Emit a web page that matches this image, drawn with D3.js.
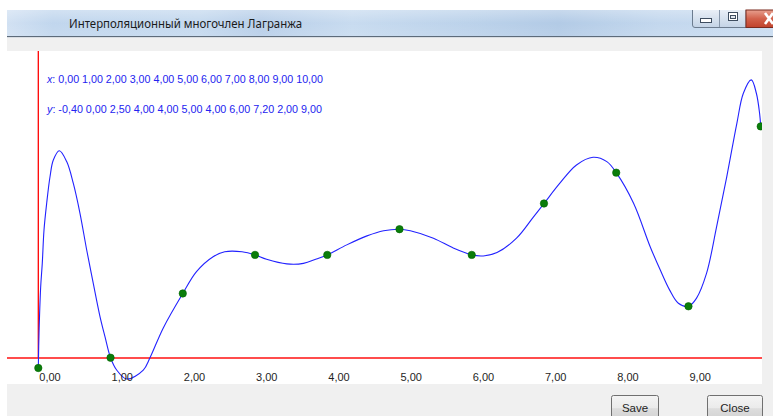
<!DOCTYPE html>
<html><head><meta charset="utf-8">
<script src="https://cdn.jsdelivr.net/npm/d3@7"></script>
<style>html,body{margin:0;padding:0;background:#fff;overflow:hidden}svg{display:block}</style>
</head><body>
<svg id="c" width="773" height="416"></svg>
<script>
const windowTitle = "Интерполяционный многочлен Лагранжа";
const nodeX = [0,1,2,3,4,5,6,7,8,9,10];
const nodeY = [-0.4,0,2.5,4,4,5,4,6,7.2,2,9];
const tickValues = [0,1,2,3,4,5,6,7,8,9];
// curve
const curveX = [0,0.01,0.033,0.055,0.079,0.116,0.162,0.208,0.291,0.393,0.484,0.577,0.670,0.761,0.854,0.923,1,1.085,1.224,1.453,1.546,1.730,2,2.19,2.42,2.58,2.82,3,3.16,3.44,3.67,3.85,4,4.27,4.55,4.78,5,5.15,5.47,5.75,6,6.16,6.35,6.62,6.85,7,7.22,7.45,7.68,7.87,8,8.24,8.47,8.61,8.74,8.86,9,9.11,9.25,9.39,9.53,9.67,9.76,9.87,9.94,9.985,10];
const curveY = [-0.4,0.95,2.76,3.67,4.97,6.01,7.04,7.69,8.05,7.63,6.79,5.62,4.19,2.89,1.60,0.82,0,-0.48,-0.83,-0.48,0,1.16,2.5,3.35,3.93,4.12,4.12,4,3.83,3.65,3.67,3.84,4,4.39,4.74,4.94,5,4.94,4.65,4.26,4,3.96,4.09,4.65,5.46,6,6.79,7.50,7.80,7.63,7.2,6.01,4.32,3.41,2.63,2.12,2,2.31,3.28,5.10,7.04,9.12,10.29,10.81,10.29,9.5,9];
const buttonLabels = ["Save","Close"];

const svg = d3.select("#c");
const W = 773, H = 416;
const win = {left:7, top:10};
const titleH = 26;
const plot = {left:7, top:51, right:762, bottom:384};

const locale = d3.formatLocale({decimal:",", thousands:" ", grouping:[3], currency:["",""], minus:"-"});
const fmt = locale.format(".2f");

const x = d3.scaleLinear().domain([0,10]).range([38.3,760.7]);
const y = d3.scaleLinear().domain([0,9]).range([357.7,126.4]);

const defs = svg.append("defs");
const tg = defs.append("linearGradient").attr("id","tb").attr("x1","0").attr("x2","1").attr("y1","0").attr("y2","0");
[["0","#d0e0f2"],["0.06","#bfd5ed"],["0.25","#c3d8ee"],["0.33","#b6cde8"],["0.45","#c6daef"],["0.6","#bad1ea"],["0.72","#b0c9e5"],["0.85","#c1d6ed"],["1","#c8dbf0"]]
  .forEach(s=>tg.append("stop").attr("offset",s[0]).attr("stop-color",s[1]));
const tv = defs.append("linearGradient").attr("id","tbv").attr("x1","0").attr("x2","0").attr("y1","0").attr("y2","1");
tv.append("stop").attr("offset","0").attr("stop-color","#fff").attr("stop-opacity",0.3);
tv.append("stop").attr("offset","0.5").attr("stop-color","#fff").attr("stop-opacity",0.03);
tv.append("stop").attr("offset","1").attr("stop-color","#fff").attr("stop-opacity",0.12);
const bg = defs.append("linearGradient").attr("id","btn").attr("x1","0").attr("x2","0").attr("y1","0").attr("y2","1");
bg.append("stop").attr("offset","0").attr("stop-color","#f4f4f4");
bg.append("stop").attr("offset","0.5").attr("stop-color","#ebebeb");
bg.append("stop").attr("offset","0.55").attr("stop-color","#dddddd");
bg.append("stop").attr("offset","1").attr("stop-color","#d2d2d2");
const wb = defs.append("linearGradient").attr("id","wb").attr("x1","0").attr("x2","0").attr("y1","0").attr("y2","1");
wb.append("stop").attr("offset","0").attr("stop-color","#e9eff7");
wb.append("stop").attr("offset","0.5").attr("stop-color","#d6e1ee");
wb.append("stop").attr("offset","1").attr("stop-color","#c3d3e6");
const cb = defs.append("linearGradient").attr("id","cb").attr("x1","0").attr("x2","0").attr("y1","0").attr("y2","1");
cb.append("stop").attr("offset","0").attr("stop-color","#e8a08f");
cb.append("stop").attr("offset","0.5").attr("stop-color","#d2614b");
cb.append("stop").attr("offset","1").attr("stop-color","#c0422c");
defs.append("clipPath").attr("id","clip").append("rect")
  .attr("x",plot.left).attr("y",plot.top).attr("width",plot.right-plot.left).attr("height",plot.bottom-plot.top);

// window frame
svg.append("rect").attr("x",win.left).attr("y",win.top).attr("width",W-win.left).attr("height",H-win.top).attr("fill","#f0f0f0");
svg.append("rect").attr("x",win.left).attr("y",win.top).attr("width",W-win.left).attr("height",titleH).attr("fill","url(#tb)");
svg.append("rect").attr("x",win.left).attr("y",win.top).attr("width",W-win.left).attr("height",titleH).attr("fill","url(#tbv)");
svg.append("line").attr("x1",win.left).attr("x2",W).attr("y1",win.top+titleH+0.5).attr("y2",win.top+titleH+0.5).attr("stroke","#5d6b7a");
svg.append("line").attr("x1",win.left).attr("x2",W).attr("y1",win.top+titleH+1.5).attr("y2",win.top+titleH+1.5).attr("stroke","#d9dde2");
svg.append("text").attr("x",69).attr("y",28).attr("font-family","Noto Sans, DejaVu Sans, sans-serif").attr("font-size",12.5)
  .attr("fill","#1b1b1b").attr("textLength",233).attr("lengthAdjust","spacingAndGlyphs").text(windowTitle);

// window buttons
const wbtn = svg.append("g");
wbtn.append("path").attr("d","M692.5,10 V25 Q692.5,27.5 695,27.5 H746 V10").attr("fill","url(#wb)").attr("stroke","#6c7c8f");
wbtn.append("line").attr("x1",719.5).attr("x2",719.5).attr("y1",10).attr("y2",27).attr("stroke","#8797ab");
wbtn.append("rect").attr("x",700.5).attr("y",18.5).attr("width",11).attr("height",4).attr("fill","#fff").attr("stroke","#3e4d60");
wbtn.append("rect").attr("x",728.5).attr("y",12.5).attr("width",9).attr("height",8).attr("fill","#fff").attr("stroke","#3e4d60");
wbtn.append("rect").attr("x",730.5).attr("y",15.5).attr("width",5).attr("height",3).attr("fill","#dfe6ef").attr("stroke","#3e4d60");
wbtn.append("rect").attr("x",746).attr("y",10).attr("width",30).attr("height",17.5).attr("fill","url(#cb)").attr("stroke","#7a2a1e");
wbtn.append("path").attr("d","M765,13 L773,24 M765,24 L773,13").attr("stroke","#fff").attr("stroke-width",2.6);

// plot area
svg.append("rect").attr("x",plot.left).attr("y",plot.top).attr("width",plot.right-plot.left).attr("height",plot.bottom-plot.top).attr("fill","#fff");

const font = "Liberation Sans, Arial, sans-serif";
const info = svg.append("g").attr("font-family",font).attr("font-size",11).attr("fill","#2323f0");
const lx = info.append("text").attr("x",47).attr("y",82.5).attr("textLength",276).attr("lengthAdjust","spacingAndGlyphs");
lx.append("tspan").attr("font-style","italic").text("x");
lx.append("tspan").text(": " + nodeX.map(fmt).join(" "));
const ly = info.append("text").attr("x",47).attr("y",112.5).attr("textLength",275).attr("lengthAdjust","spacingAndGlyphs");
ly.append("tspan").attr("font-style","italic").text("y");
ly.append("tspan").text(": " + nodeY.map(fmt).join(" "));

const g = svg.append("g").attr("clip-path","url(#clip)");
// red axes
g.append("line").attr("x1",x(0)).attr("x2",x(0)).attr("y1",plot.top).attr("y2",y(0)).attr("stroke","#ff0000").attr("stroke-width",1.3);
g.append("line").attr("x1",plot.left).attr("x2",plot.right).attr("y1",y(0)+0.3).attr("y2",y(0)+0.3).attr("stroke","#ff1010").attr("stroke-width",1.6);

// tick labels
const axis = d3.axisBottom(x).tickValues(tickValues).tickSize(0).tickPadding(0).tickFormat(fmt);
const ag = svg.append("g").attr("transform",`translate(0,${y(0)})`).call(axis);
ag.select(".domain").remove();
ag.selectAll("text").attr("text-anchor","start").attr("dy",null).attr("y",23.5).attr("dx",0.5)
  .attr("font-family",font).attr("font-size",11).attr("fill","#1e1e1e");

// curve
const pts = curveX.map((d,i)=>[d,curveY[i]]);
const line = d3.line().x(d=>x(d[0])).y(d=>y(d[1])).curve(d3.curveCatmullRom.alpha(0.5));
g.append("path").datum(pts).attr("d",line).attr("fill","none").attr("stroke","#2222ff").attr("stroke-width",1.1);

// nodes
g.selectAll("circle.n").data(nodeX.map((d,i)=>[d,nodeY[i]])).join("circle").attr("class","n")
  .attr("cx",d=>x(d[0])).attr("cy",d=>y(d[1])).attr("r",3.7).attr("fill","#0a7d0a").attr("stroke","#006400").attr("stroke-width",0.6);

// dialog buttons
const btnX = [611, 707], btnW = [47, 55];
const bgrp = svg.append("g");
buttonLabels.forEach((t,i)=>{
  bgrp.append("rect").attr("x",btnX[i]+0.5).attr("y",395.5).attr("width",btnW[i]).attr("height",24).attr("rx",2)
    .attr("fill","url(#btn)").attr("stroke","#707070");
  bgrp.append("text").attr("x",btnX[i]+btnW[i]/2+0.5).attr("y",411.5).attr("text-anchor","middle")
    .attr("font-family",font).attr("font-size",11.5).attr("fill","#1e1e1e").text(t);
});
</script>
</body></html>
